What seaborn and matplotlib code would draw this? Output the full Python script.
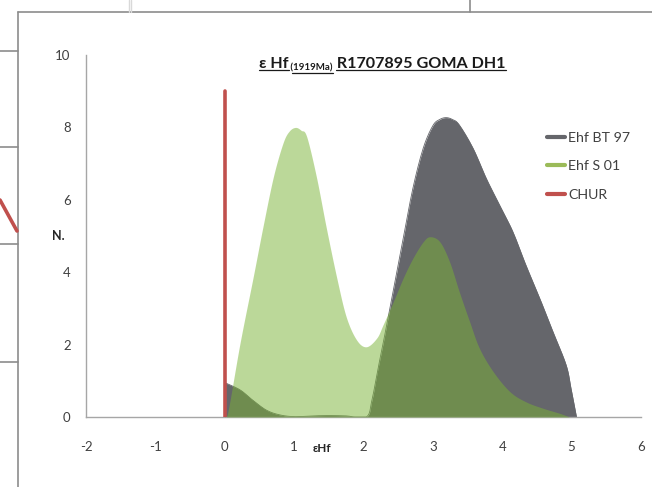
import numpy as np
import pandas as pd
import matplotlib
matplotlib.use("Agg")
import matplotlib.pyplot as plt
import seaborn as sns
from matplotlib.lines import Line2D

# ---- data ----
bt97_x = [0.00, 0.22, 0.40, 0.60, 0.79, 1.00, 1.25, 1.50, 1.75, 2.04, 2.12, 2.20, 2.30,
          2.43, 2.57, 2.71, 2.86, 3.00, 3.10, 3.19, 3.28, 3.38, 3.58, 3.77, 3.96, 4.15,
          4.34, 4.54, 4.73, 4.92, 4.99, 5.07]
bt97_y = [0.95, 0.75, 0.47, 0.19, 0.06, 0.01, 0.03, 0.04, 0.03, 0.00, 0.45, 1.25, 2.20,
          3.50, 4.90, 6.30, 7.42, 8.05, 8.22, 8.27, 8.22, 8.07, 7.42, 6.59, 5.86, 5.13,
          4.20, 3.28, 2.36, 1.44, 0.80, 0.00]

s01_x = [0.00, 0.05, 0.22, 0.41, 0.55, 0.70, 0.84, 0.93, 1.02, 1.10, 1.18, 1.32, 1.46,
         1.61, 1.75, 1.90, 2.04, 2.19, 2.28, 2.43, 2.57, 2.71, 2.86, 2.96, 3.10, 3.24,
         3.38, 3.53, 3.67, 3.87, 4.11, 4.34, 4.59, 4.83, 4.97]
s01_y = [0.00, 0.19, 2.04, 3.87, 5.25, 6.63, 7.57, 7.90, 8.00, 7.92, 7.75, 6.64, 5.26,
         3.88, 2.77, 2.13, 1.94, 2.18, 2.54, 3.19, 3.83, 4.38, 4.84, 4.98, 4.84, 4.29,
         3.46, 2.63, 1.90, 1.25, 0.70, 0.42, 0.24, 0.10, 0.00]

chur_x = [0, 0]
chur_y = [0, 9]

x_ticks = [-2, -1, 0, 1, 2, 3, 4, 5, 6]
y_ticks = [0, 2, 4, 6, 8, 10]
series_names = ["Ehf BT 97", "Ehf S 01", "CHUR"]

GRAY = "#65666B"
GREEN = "#79B335"
RED = "#C0504D"
TXT = "#404040"


def smooth(xs, ys, n=12):
    """Display-time smoothed line through the read points (like Excel's smoothed line)."""
    xs = np.asarray(xs, float)
    ys = np.asarray(ys, float)
    px = np.concatenate([[2 * xs[0] - xs[1]], xs, [2 * xs[-1] - xs[-2]]])
    py = np.concatenate([[2 * ys[0] - ys[1]], ys, [2 * ys[-1] - ys[-2]]])
    ox, oy = [], []
    t = np.linspace(0, 1, n, endpoint=False)
    for i in range(1, len(px) - 2):
        p0x, p1x, p2x, p3x = px[i - 1:i + 3]
        p0y, p1y, p2y, p3y = py[i - 1:i + 3]
        t2, t3 = t * t, t * t * t
        cx = 0.5 * (2 * p1x + (-p0x + p2x) * t + (2 * p0x - 5 * p1x + 4 * p2x - p3x) * t2
                    + (-p0x + 3 * p1x - 3 * p2x + p3x) * t3)
        cy = 0.5 * (2 * p1y + (-p0y + p2y) * t + (2 * p0y - 5 * p1y + 4 * p2y - p3y) * t2
                    + (-p0y + 3 * p1y - 3 * p2y + p3y) * t3)
        ox.extend(cx)
        oy.extend(cy)
    ox.append(xs[-1])
    oy.append(ys[-1])
    return pd.DataFrame({"x": ox, "y": np.clip(oy, 0, None)})


sns.set_theme(style="white")
plt.rcParams["font.family"] = ["Lato", "DejaVu Sans"]

W, H = 652, 487
fig = plt.figure(figsize=(W / 100, H / 100), dpi=100)
ax = fig.add_axes([86 / W, 1 - 417 / H, (641 - 86) / W, (417 - 55) / H])

df_bt = smooth(bt97_x, bt97_y)
df_s = smooth(s01_x, s01_y)
df_c = pd.DataFrame({"x": chur_x, "y": chur_y})

ax.fill_between(df_bt["x"], 0, df_bt["y"], color=GRAY, lw=0, zorder=2)
sns.lineplot(data=df_bt, x="x", y="y", ax=ax, color=GRAY, lw=0.6, sort=False,
             estimator=None, zorder=2)
ax.fill_between(df_s["x"], 0, df_s["y"], color=GREEN, alpha=0.5, lw=0, zorder=3)
sns.lineplot(data=df_s, x="x", y="y", ax=ax, color=GREEN, lw=0.0, sort=False,
             estimator=None, zorder=3)
sns.lineplot(data=df_c, x="x", y="y", ax=ax, color=RED, lw=2.6, sort=False,
             estimator=None, zorder=4)

ax.set_xlim(-2, 6)
ax.set_ylim(0, 10)
ax.set_xticks(x_ticks)
ax.set_yticks(y_ticks)
ax.set_xticklabels([str(t) for t in x_ticks])
ax.set_yticklabels([str(t) for t in y_ticks])
ax.set_xlabel("")
ax.set_ylabel("")
for s in ["top", "right"]:
    ax.spines[s].set_visible(False)
for s in ["left", "bottom"]:
    ax.spines[s].set_color("#A6A6A6")
    ax.spines[s].set_linewidth(1.0)
ax.tick_params(axis="both", which="both", direction="out", length=5, width=1.0,
               color="#A6A6A6", labelcolor=TXT, labelsize=9.5)
ax.tick_params(axis="x", pad=12)
ax.tick_params(axis="y", pad=6)
ax.patch.set_alpha(0)

# axis labels
fig.text(322 / W, 1 - 448 / H, "εHf", fontsize=8.5, weight="bold", color="#262626",
         ha="center", va="center")
fig.text(58 / W, 1 - 236 / H, "N.", fontsize=9, weight="bold", color="#262626",
         ha="center", va="center")

# legend
handles = [Line2D([], [], color=GRAY, lw=3),
           Line2D([], [], color="#9BBB59", lw=3),
           Line2D([], [], color=RED, lw=3)]
leg = fig.legend(handles, series_names, loc="upper left",
                 bbox_to_anchor=(547 / W, 1 - 132 / H), frameon=False,
                 fontsize=10.2, handlelength=1.3, handletextpad=0.2,
                 labelspacing=1.15, borderaxespad=0, borderpad=0)
for t in leg.get_texts():
    t.set_color(TXT)

# title with subscript and underline
fig.canvas.draw()
r = fig.canvas.get_renderer()
inv = fig.transFigure.inverted()
base_y = 1 - 67.5 / H
x0 = 259 / W
parts = [("ε Hf", 11.6, 0), (" (1919Ma)", 7, -3), (" R1707895 GOMA DH1", 11.6, 0)]
for txt, fs, dy in parts:
    t = fig.text(x0, base_y + dy / H, txt, fontsize=fs, weight="bold", color="#1a1a1a",
                 ha="left", va="baseline")
    bb = t.get_window_extent(r)
    x1 = inv.transform((bb.x1, bb.y0))[0]
    uy = base_y + (dy - 2.2) / H
    start = x0 + (3 / W if txt.startswith(" ") else 0)
    fig.add_artist(Line2D([start, x1], [uy, uy], transform=fig.transFigure,
                          color="#1a1a1a", lw=0.9))
    x0 = x1

# screenshot frame remnants
def fl(xs, ys, c="#8C8C8C", lw=1.2):
    fig.add_artist(Line2D([x / W for x in xs], [1 - y / H for y in ys],
                          transform=fig.transFigure, color=c, lw=lw))

fl([17.5, 17.5], [11.5, H])
fl([17.5, W], [11.5, 11.5])
fl([469.5, 469.5], [0, 11.5])
fl([129, 129], [0, 11.5], c="#D9D9D9", lw=1.0)
fl([131, 131], [0, 11.5], c="#D9D9D9", lw=1.0)
for yy in [50.5, 147, 244, 362]:
    fl([0, 17.5], [yy, yy])
fl([0, 17], [200, 231], c=RED, lw=2.6)

fig.savefig("out.png", dpi=100)
